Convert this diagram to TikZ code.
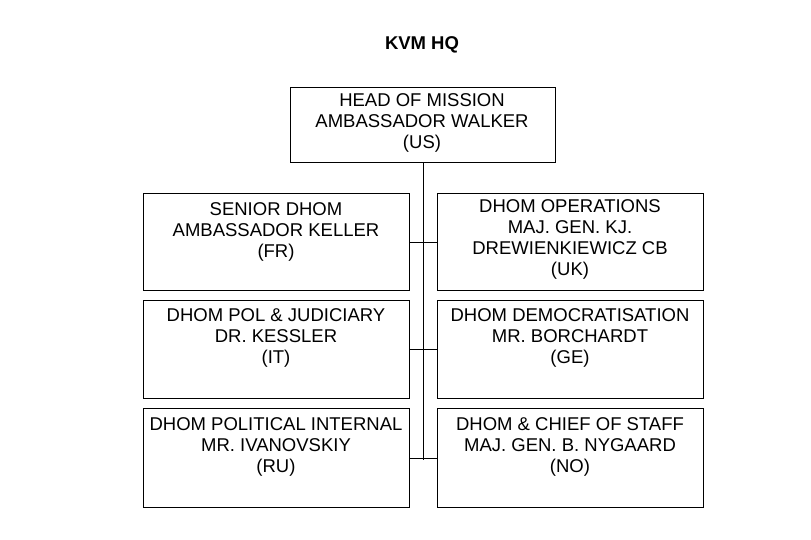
\documentclass[tikz,border=0pt]{standalone}
\usepackage{fontspec}
\setmainfont{Liberation Sans}
\begin{document}
\begin{tikzpicture}[x=1pt,y=-1pt,
  box/.style={draw,line width=1pt,minimum width=266pt,anchor=north west,inner sep=0pt},
  txt/.style={align=center,font=\fontsize{18.5}{21}\selectfont,anchor=north,inner sep=0pt}]
\useasboundingbox (0,0) rectangle (811,539);
\node[font=\bfseries\fontsize{18.5}{21}\selectfont] (t) at (422,45) {KVM HQ};
\node[box,minimum width=265pt,minimum height=75pt] (h) at (290,87) {};
\node[txt] (ht) at (422,93) {HEAD OF MISSION\\AMBASSADOR WALKER\\(US)};
\node[box,minimum height=97pt] (l1) at (143,193) {};
\node[box,minimum height=98pt] (l2) at (143,300) {};
\node[box,minimum height=99pt] (l3) at (143,408) {};
\node[box,minimum height=97pt] (r1) at (437,193) {};
\node[box,minimum height=98pt] (r2) at (437,300) {};
\node[box,minimum height=99pt] (r3) at (437,408) {};
\node[txt] at (276,202) {SENIOR DHOM\\AMBASSADOR KELLER\\(FR)};
\node[txt] at (570,199) {DHOM OPERATIONS\\MAJ. GEN. KJ.\\DREWIENKIEWICZ CB\\(UK)};
\node[txt] at (276,308) {DHOM POL \& JUDICIARY\\DR. KESSLER\\(IT)};
\node[txt] at (570,308) {DHOM DEMOCRATISATION\\MR. BORCHARDT\\(GE)};
\node[txt] at (276,417) {DHOM POLITICAL INTERNAL\\MR. IVANOVSKIY\\(RU)};
\node[txt] at (570,417) {DHOM \& CHIEF OF STAFF\\MAJ. GEN. B. NYGAARD\\(NO)};
\coordinate (bot) at (423,460);
\draw[line width=1pt] (h.south -| bot) -- (bot);
\foreach \n in {l1,l2,l3}{\draw[line width=1pt] (\n.east) -- (\n.east -| bot);}
\foreach \n in {r1,r2,r3}{\draw[line width=1pt] (\n.west) -- (\n.west -| bot);}
\end{tikzpicture}
\end{document}
